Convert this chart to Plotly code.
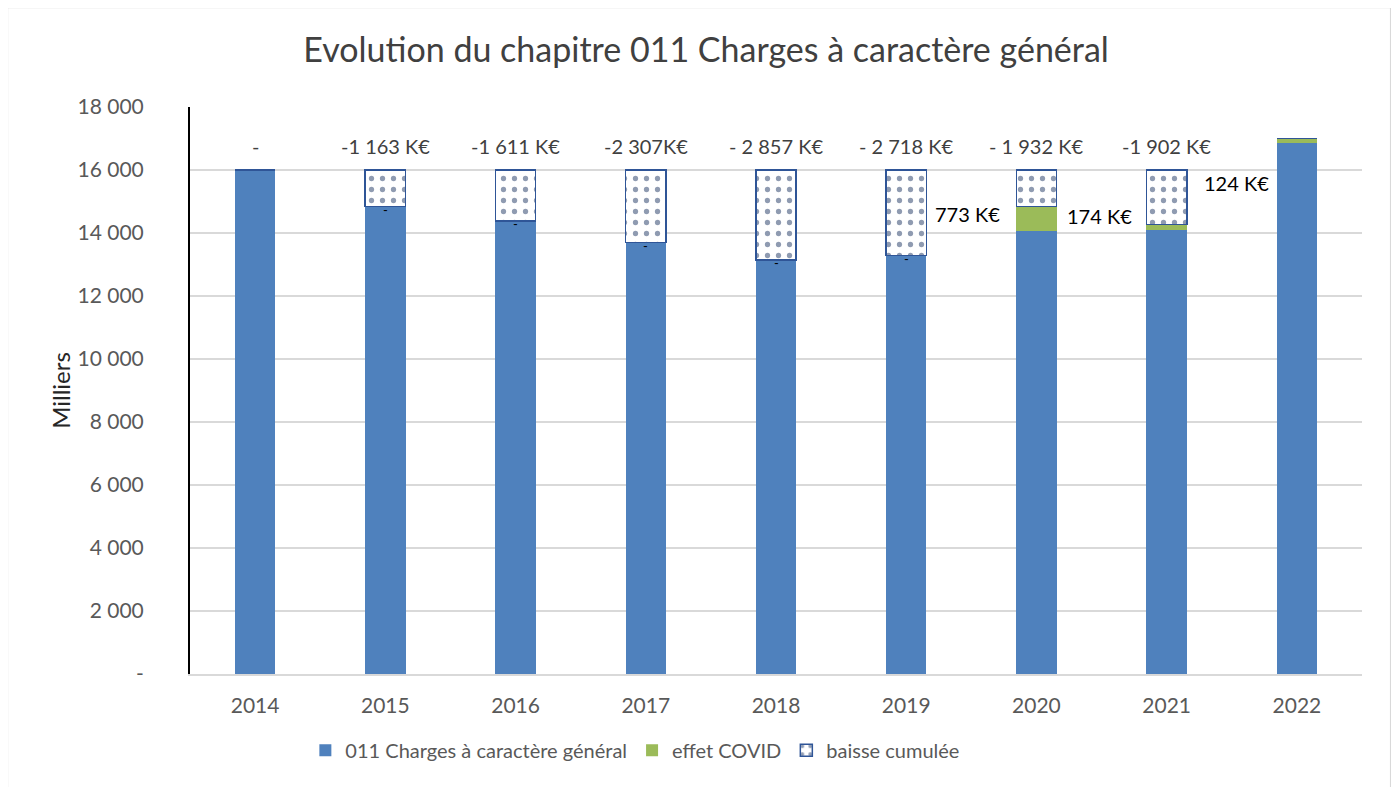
import plotly.graph_objects as go

years = ['2014', '2015', '2016', '2017', '2018', '2019', '2020', '2021', '2022']
charges = [16000, 14837, 14389, 13693, 13143, 13282, 14068, 14098, 16870]
covid = [0, 0, 0, 0, 0, 0, 773, 174, 124]
baisse = [0, 1163, 1611, 2307, 2857, 2718, 1159, 1728, 0]

baisse_labels = ['-', '-1 163 K€', '-1 611 K€', '-2 307K€', '- 2 857 K€',
                 '- 2 718 K€', '- 1 932 K€', '-1 902 K€', '']
covid_labels = ['', '', '', '', '', '', '773 K€', '174 K€', '124 K€']

y_ticks = [0, 2000, 4000, 6000, 8000, 10000, 12000, 14000, 16000, 18000]
y_ticktext = ['-', '2 000', '4 000', '6 000', '8 000', '10 000', '12 000',
              '14 000', '16 000', '18 000']

FONT = 'Lato'
GREY_TEXT = '#595959'
BLUE = '#4F81BD'
GREEN = '#9BBB59'

fig = go.Figure()

fig.add_trace(go.Bar(
    x=years, y=charges, name='011 Charges à caractère général',
    marker=dict(color=BLUE, line=dict(color=BLUE, width=0)),
))
fig.add_trace(go.Bar(
    x=years, y=covid, name='effet COVID',
    marker=dict(color=GREEN, line=dict(color=GREEN, width=0)),
))
fig.add_trace(go.Bar(
    x=years, y=baisse, name='baisse cumulée',
    marker=dict(
        color='white',
        line=dict(color='#2F5597', width=1.5),
        pattern=dict(shape='.', fgcolor='#1F3864', bgcolor='white',
                     size=11, solidity=0.18),
    ),
))

annotations = []

# labels of the cumulated decrease, above each stack
# (x is the category index: the year strings would be read as numbers)
for i, (c, g, b, label) in enumerate(zip(charges, covid, baisse, baisse_labels)):
    if not label:
        continue
    annotations.append(dict(
        x=i, y=c + g + b, text=label, showarrow=False,
        yanchor='middle', yshift=24,
        font=dict(family=FONT, size=20, color='#404040'),
    ))

# small "-" labels for the zero COVID effect
for i, (c, g, b) in enumerate(zip(charges, covid, baisse)):
    if g == 0 and b > 0:
        annotations.append(dict(
            x=i, y=c, text='-', showarrow=False,
            yanchor='middle', yshift=-3,
            font=dict(family=FONT, size=13, color='black'),
        ))

# COVID effect labels, placed left of the bar
covid_xshift = [0, 0, 0, 0, 0, 0, -34, -33, -26]
covid_yshift = [0, 0, 0, 0, 0, 0, 5, 11, -42]
for i, (c, g, label) in enumerate(zip(charges, covid, covid_labels)):
    if not label:
        continue
    annotations.append(dict(
        x=i, y=c + g / 2, text=label, showarrow=False,
        xanchor='right', xshift=covid_xshift[i], yshift=covid_yshift[i],
        font=dict(family=FONT, size=20, color='black'),
    ))

fig.update_layout(
    width=1399, height=787,
    barmode='stack',
    bargap=0.69,
    paper_bgcolor='white',
    plot_bgcolor='white',
    margin=dict(l=182, r=45, t=99, b=121),
    font=dict(family=FONT, color=GREY_TEXT),
    title=dict(
        text='Evolution du chapitre 011 Charges à caractère général',
        x=0.499, xanchor='center', y=0.947, yanchor='middle',
        font=dict(family=FONT, size=34, color='#404040'),
    ),
    xaxis=dict(
        type='category',
        showline=True, linecolor='#D9D9D9', linewidth=2,
        tickfont=dict(family=FONT, size=21, color=GREY_TEXT),
        ticks='', ticklabelstandoff=12,
    ),
    yaxis=dict(
        range=[0, 18000],
        tickvals=y_ticks, ticktext=y_ticktext,
        tickfont=dict(family=FONT, size=21, color=GREY_TEXT),
        showgrid=True, gridcolor='#D9D9D9', gridwidth=1.5,
        showline=True, linecolor='black', linewidth=2,
        zeroline=False, ticks='', ticklabelstandoff=40,
        title=dict(text='Milliers', standoff=0,
                   font=dict(family=FONT, size=24, color='#262626')),
    ),
    legend=dict(
        orientation='h', x=0.38, xanchor='center', y=-0.1, yanchor='top',
        font=dict(family=FONT, size=20, color=GREY_TEXT),
        traceorder='normal', itemwidth=30,
    ),
    annotations=annotations,
    shapes=[dict(
        type='rect', xref='paper', yref='paper',
        x0=-0.156, x1=1.0247, y0=-0.21, y1=1.176,
        line=dict(color='#D9D9D9', width=2), layer='below',
    )],
)

fig.write_html('out.html')
